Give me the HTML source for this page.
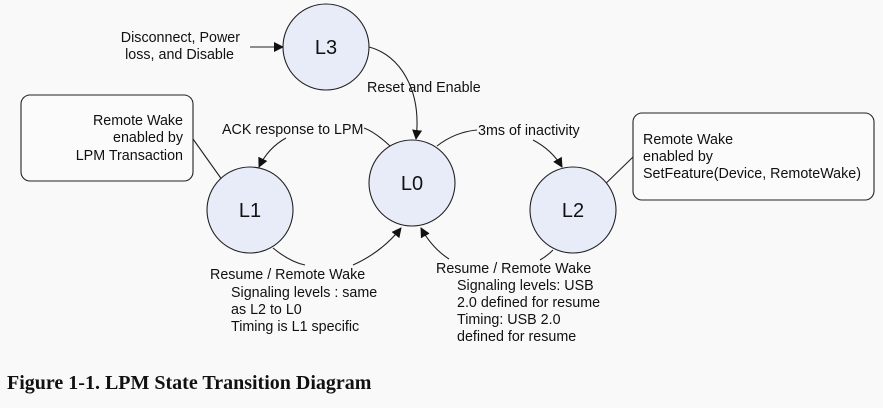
<!DOCTYPE html>
<html><head><style>
body{margin:0;background:#f9f9f9;}
svg text{font-family:"Liberation Sans",sans-serif;font-size:14.3px;fill:#111;}
</style></head><body>
<svg width="883" height="403" viewBox="0 0 883 403" xmlns="http://www.w3.org/2000/svg">
<defs><marker id="a" markerWidth="10" markerHeight="10" refX="9" refY="5" orient="auto" markerUnits="userSpaceOnUse"><path d="M0,0 L10,5 L0,10 z" fill="#111"/></marker></defs>
<rect width="883" height="403" fill="#f9f9f9"/>
<g fill="none" stroke="#222" stroke-width="1.1">
<rect x="21" y="95" width="172" height="86" rx="9" fill="#fbfbfb"/>
<rect x="633" y="113" width="241" height="87" rx="9" fill="#fbfbfb"/>
<line x1="193" y1="139" x2="230" y2="191"/>
<line x1="633" y1="157" x2="596" y2="193"/>
<line x1="250" y1="47" x2="283" y2="47" marker-end="url(#a)"/>
<path d="M369,47 C400,55 422,90 416,139" marker-end="url(#a)"/>
<path d="M390,146 Q375,132 364,128"/>
<path d="M286,138 Q268,148 259,167" marker-end="url(#a)"/>
<path d="M437,146 Q455,132 477,130"/>
<path d="M533,140 Q552,150 562,167" marker-end="url(#a)"/>
<path d="M273,248 Q290,262 305,265"/>
<path d="M353,265 Q382,252 401,228" marker-end="url(#a)"/>
<path d="M449,259 Q432,248 421,228" marker-end="url(#a)"/>
<path d="M553,250 Q547,256 540,260"/>
</g>
<g fill="#e8ecf8" stroke="#222" stroke-width="1.1">
<circle cx="326" cy="47" r="43"/>
<circle cx="412" cy="183" r="43"/>
<circle cx="250" cy="210" r="43"/>
<circle cx="573" cy="210" r="43"/>
</g>
<g text-anchor="middle">
<text x="326" y="54" style="font-size:20px">L3</text>
<text x="412" y="190" style="font-size:20px">L0</text>
<text x="250" y="217" style="font-size:20px">L1</text>
<text x="573" y="217" style="font-size:20px">L2</text>
</g>
<g text-anchor="end">
<text x="240" y="42">Disconnect, Power</text>
<text x="234" y="59">loss, and Disable</text>
<text x="183" y="125">Remote Wake</text>
<text x="183" y="142">enabled by</text>
<text x="183" y="160">LPM Transaction</text>
</g>
<text x="367" y="92">Reset and Enable</text>
<text x="222" y="134">ACK response to LPM</text>
<text x="478" y="135">3ms of inactivity</text>
<text x="643" y="144">Remote Wake</text>
<text x="643" y="161">enabled by</text>
<text x="643" y="178">SetFeature(Device, RemoteWake)</text>
<text x="210" y="279">Resume / Remote Wake</text>
<text x="231" y="297">Signaling levels : same</text>
<text x="231" y="314">as L2 to L0</text>
<text x="231" y="331">Timing is L1 specific</text>
<text x="436" y="273">Resume / Remote Wake</text>
<text x="457" y="290">Signaling levels: USB</text>
<text x="457" y="307">2.0 defined for resume</text>
<text x="457" y="324">Timing: USB 2.0</text>
<text x="457" y="341">defined for resume</text>
<text x="7" y="389" style="font-family:'Liberation Serif',serif;font-weight:bold;font-size:20px">Figure 1-1. LPM State Transition Diagram</text>
</svg>
</body></html>
